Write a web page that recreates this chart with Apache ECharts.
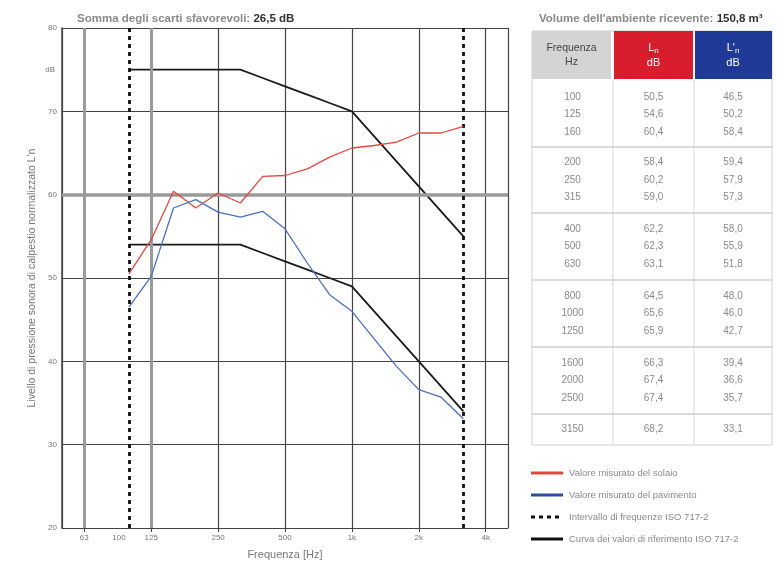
<!DOCTYPE html>
<html>
<head>
<meta charset="utf-8">
<script src="https://cdn.jsdelivr.net/npm/echarts@6/dist/echarts.min.js"></script>
<style>
  html, body { margin: 0; padding: 0; background: #fff; }
  #chart { width: 777px; height: 564px; }
</style>
</head>
<body>
<div id="chart"></div>
<script>
// asse delle frequenze (terzi d'ottava 50 - 5000 Hz)
const axisFreqs = ['50', '63', '80', '100', '125', '160', '200', '250', '315', '400', '500',
  '630', '800', '1000', '1250', '1600', '2000', '2500', '3150', '4000', '5000'];
const tickFreqs = ['63', '125', '250', '500', '1000', '2000', '4000'];

// bande di misura
const bandFreqs = ['100', '125', '160', '200', '250', '315', '400', '500',
  '630', '800', '1000', '1250', '1600', '2000', '2500', '3150'];
// valori misurati (tabella)
const redValues = [50.5, 54.6, 60.4, 58.4, 60.2, 59.0, 62.2, 62.3, 63.1, 64.5, 65.6, 65.9, 66.3, 67.4, 67.4, 68.2];
const blueValues = [46.5, 50.2, 58.4, 59.4, 57.9, 57.3, 58.0, 55.9, 51.8, 48.0, 46.0, 42.7, 39.4, 36.6, 35.7, 33.1];
// curve di riferimento ISO 717-2 (spostate)
const refUpper = [75, 75, 75, 75, 75, 75, 74, 73, 72, 71, 70, 67, 64, 61, 58, 55];
const refLower = [54, 54, 54, 54, 54, 54, 53, 52, 51, 50, 49, 46, 43, 40, 37, 34];

const fmt = v => v.toFixed(1).replace('.', ',');
const pairs = vals => bandFreqs.map((f, i) => [f, vals[i]]);
const tickIdx = tickFreqs.map(f => axisFreqs.indexOf(f));
const gridIdx = [0, ...tickIdx, axisFreqs.length - 1];

const chart = echarts.init(document.getElementById('chart'));
const FONT = 'Liberation Sans, Arial, sans-serif';

// tabella a destra
const tx = [532, 613, 694, 772];
const groups = [[0, 3], [3, 6], [6, 9], [9, 12], [12, 15], [15, 16]];
const groupTop = [82, 147, 213, 280, 347, 414];
const groupBottom = [147, 213, 280, 347, 414, 445];
const tableEls = [];
tableEls.push({ type: 'rect', shape: { x: tx[0], y: 31, width: tx[3] - tx[0], height: 414 },
  style: { fill: '#fff', stroke: '#cfcfcf', lineWidth: 1 } });
tableEls.push({ type: 'rect', shape: { x: tx[0], y: 31, width: tx[1] - tx[0] - 2, height: 48 }, style: { fill: '#d4d4d6' } });
tableEls.push({ type: 'rect', shape: { x: tx[1] + 1, y: 31, width: tx[2] - tx[1] - 2, height: 48 }, style: { fill: '#d81e2c' } });
tableEls.push({ type: 'rect', shape: { x: tx[2] + 1, y: 31, width: tx[3] - tx[2] - 1, height: 48 }, style: { fill: '#1e3a96' } });
tableEls.push({ type: 'text', x: (tx[0] + tx[1]) / 2 - 1, y: 55,
  style: { text: 'Frequenza\nHz', fill: '#444', font: '10.5px ' + FONT, align: 'center', verticalAlign: 'middle', lineHeight: 14 } });
tableEls.push({ type: 'text', x: (tx[1] + tx[2]) / 2, y: 55,
  style: { text: '{a|L}{s|n}\n{a|dB}', align: 'center', verticalAlign: 'middle',
    rich: { a: { fill: '#fff', font: '11px ' + FONT, lineHeight: 15 }, s: { fill: '#fff', font: '8px ' + FONT, verticalAlign: 'bottom' } } } });
tableEls.push({ type: 'text', x: (tx[2] + tx[3]) / 2, y: 55,
  style: { text: "{a|L'}{s|n}\n{a|dB}", align: 'center', verticalAlign: 'middle',
    rich: { a: { fill: '#fff', font: '11px ' + FONT, lineHeight: 15 }, s: { fill: '#fff', font: '8px ' + FONT, verticalAlign: 'bottom' } } } });
[tx[1], tx[2]].forEach(x => tableEls.push({ type: 'line', shape: { x1: x, y1: 80, x2: x, y2: 445 },
  style: { stroke: '#d6d6d6', lineWidth: 1 } }));
groupBottom.slice(0, -1).forEach(y => tableEls.push({ type: 'line', shape: { x1: tx[0], y1: y, x2: tx[3], y2: y },
  style: { stroke: '#cfcfcf', lineWidth: 1.5 } }));
groups.forEach((g, gi) => {
  const n = g[1] - g[0];
  const mid = (groupTop[gi] + groupBottom[gi]) / 2;
  for (let k = 0; k < n; k++) {
    const i = g[0] + k;
    const y = mid + (k - (n - 1) / 2) * 17.5;
    const cols = [bandFreqs[i], fmt(redValues[i]), fmt(blueValues[i])];
    cols.forEach((t, c) => tableEls.push({ type: 'text', x: (tx[c] + tx[c + 1]) / 2, y: y,
      style: { text: t, fill: '#8a8a8a', font: '10px ' + FONT, align: 'center', verticalAlign: 'middle' } }));
  }
});

// legenda
const legendItems = [
  { text: 'Valore misurato del solaio', color: '#e4473f', dash: false },
  { text: 'Valore misurato del pavimento', color: '#2f4f9e', dash: false },
  { text: 'Intervallo di frequenze ISO 717-2', color: '#111', dash: true },
  { text: 'Curva dei valori di riferimento ISO 717-2', color: '#111', dash: false }
];
legendItems.forEach((it, i) => {
  const y = 473 + i * 22;
  tableEls.push({ type: 'line', shape: { x1: 531, y1: y, x2: 563, y2: y },
    style: { stroke: it.color, lineWidth: 3, lineDash: it.dash ? [4, 4] : null } });
  tableEls.push({ type: 'text', x: 569, y: y,
    style: { text: it.text, fill: '#8a8a8a', font: '9.5px ' + FONT, verticalAlign: 'middle' } });
});

chart.setOption({
  animation: false,
  backgroundColor: '#fff',
  grid: { left: 62, top: 28, width: 446, height: 500, containLabel: false, outerBoundsMode: 'none' },
  title: [{
    left: 72, top: 8,
    text: '{a|Somma degli scarti sfavorevoli: }{b|26,5 dB}',
    textStyle: { rich: { a: { color: '#8a8a8a', fontSize: 11.5, fontFamily: FONT }, b: { color: '#333', fontSize: 11.5, fontWeight: 'bold', fontFamily: FONT } } }
  }, {
    left: 534, top: 8,
    text: "{a|Volume dell'ambiente ricevente: }{b|150,8 m³}",
    textStyle: { rich: { a: { color: '#8a8a8a', fontSize: 11.5, fontFamily: FONT }, b: { color: '#333', fontSize: 11.5, fontWeight: 'bold', fontFamily: FONT } } }
  }],
  graphic: [
    { type: 'text', x: 55, y: 70, style: { text: 'dB', fill: '#777', font: '8px ' + FONT, align: 'right', verticalAlign: 'middle' } },
    { type: 'text', x: 119, y: 538, style: { text: '100', fill: '#777', font: '8px ' + FONT, align: 'center', verticalAlign: 'middle' } },
    ...tableEls
  ],
  xAxis: {
    type: 'category',
    data: axisFreqs,
    boundaryGap: false,
    name: 'Frequenza [Hz]',
    nameLocation: 'middle',
    nameGap: 21,
    nameTextStyle: { color: '#777', fontSize: 11, fontFamily: FONT },
    axisLine: { lineStyle: { color: '#444', width: 1.2 } },
    axisTick: { show: true, length: 4, interval: (i) => tickIdx.includes(i), lineStyle: { color: '#444' } },
    axisLabel: {
      interval: (i) => tickIdx.includes(i),
      color: '#777', fontSize: 8, fontFamily: FONT, margin: 6,
      formatter: v => (+v >= 1000 ? (+v / 1000) + 'k' : v)
    },
    splitLine: { show: true, interval: (i) => gridIdx.includes(i), lineStyle: { color: '#444', width: 1.2 } }
  },
  yAxis: {
    type: 'value',
    min: 20, max: 80, interval: 10,
    name: "Livello di pressione sonora di calpestio normalizzato L'n",
    nameLocation: 'middle',
    nameGap: 20,
    nameTextStyle: { color: '#777', fontSize: 10.5, fontFamily: FONT },
    axisLine: { show: true, lineStyle: { color: '#444', width: 1.5 } },
    axisTick: { show: false },
    axisLabel: { color: '#777', fontSize: 8, fontFamily: FONT, margin: 5 },
    splitLine: { lineStyle: { color: '#444', width: 1.2 } }
  },
  series: [
    {
      name: 'griglia',
      type: 'line',
      data: [],
      silent: true,
      markLine: {
        symbol: 'none', silent: true, label: { show: false },
        data: [
          { yAxis: 60, lineStyle: { color: '#9a9a9a', width: 3.5, type: 'solid' } },
          { xAxis: '63', lineStyle: { color: '#9a9a9a', width: 3, type: 'solid' } },
          { xAxis: '125', lineStyle: { color: '#9a9a9a', width: 3, type: 'solid' } }
        ]
      }
    },
    {
      name: 'Valore misurato del solaio',
      type: 'line',
      data: pairs(redValues),
      symbol: 'none',
      lineStyle: { color: '#e4473f', width: 1.3 },
      z: 5
    },
    {
      name: 'Valore misurato del pavimento',
      type: 'line',
      data: pairs(blueValues),
      symbol: 'none',
      lineStyle: { color: '#4a6fc0', width: 1.3 },
      z: 5
    },
    {
      name: 'Curva di riferimento superiore',
      type: 'line',
      data: pairs(refUpper),
      symbol: 'none',
      lineStyle: { color: '#1a1a1a', width: 1.8 },
      z: 4,
      markLine: {
        symbol: 'none', silent: true, label: { show: false },
        lineStyle: { color: '#111', width: 2.8, type: [4, 4] },
        data: [{ xAxis: '100' }, { xAxis: '3150' }]
      }
    },
    {
      name: 'Curva di riferimento inferiore',
      type: 'line',
      data: pairs(refLower),
      symbol: 'none',
      lineStyle: { color: '#1a1a1a', width: 1.8 },
      z: 4
    }
  ]
});
</script>
</body>
</html>
